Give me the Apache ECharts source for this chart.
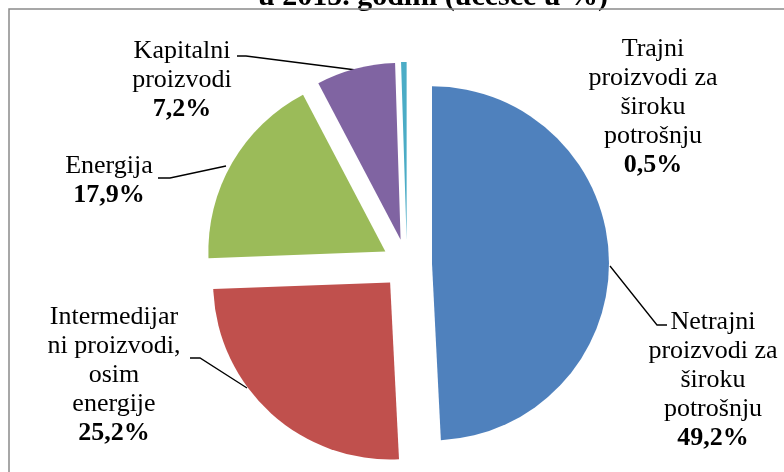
<!DOCTYPE html>
<html>
<head>
<meta charset="utf-8">
<script src="https://cdn.jsdelivr.net/npm/echarts@6/dist/echarts.min.js"></script>
<style>
html,body{margin:0;padding:0;background:#fff;}
#chart{width:784px;height:472px;}
</style>
</head>
<body>
<div id="chart"></div>
<script>
// ---- data ----
const categories = [
  'Netrajni proizvodi za široku potrošnju',
  'Intermedijarni proizvodi, osim energije',
  'Energija',
  'Kapitalni proizvodi',
  'Trajni proizvodi za široku potrošnju'
];
const labelTexts = [
  'Netrajni\nproizvodi za\nširoku\npotrošnju',
  'Intermedijar\nni proizvodi,\nosim\nenergije',
  'Energija',
  'Kapitalni\nproizvodi',
  'Trajni\nproizvodi za\nširoku\npotrošnju'
];
const shares = [49.2, 25.2, 17.9, 7.2, 0.5];
const titleText = 'u 2015. godini (učešće u %)';

// ---- styling / layout ----
const colors = ['#4F81BD', '#C0504D', '#9BBB59', '#8064A2', '#4BACC6'];
const PIE_CENTER = [407, 264];
const PIE_RADIUS = 177;
const EXPLODE = 25;
const labelPos = [
  { x: 713, y: 380 },
  { x: 114, y: 375 },
  { x: 109, y: 181 },
  { x: 182, y: 80 },
  { x: 653, y: 107 }
];
const leaderPts = [
  [[610, 266], [657, 325], [667, 325]],
  [[247, 388], [200, 358], [190, 358]],
  [[226, 166], [170, 178], [158, 178]],
  [[356, 70], [246, 56], [237, 56]],
  null
];
const FONT = 'Liberation Serif, Times New Roman, serif';
const TRANSPARENT = 'rgba(0,0,0,0)';

function fmt(v) { return v.toFixed(1).replace('.', ',') + '%'; }

// explosion: each slice drawn by its own pie series, shifted along its mid-angle
const total = shares.reduce((a, b) => a + b, 0);
let cum = 0;
const series = shares.map((v, k) => {
  const midFrac = (cum + v / 2) / total;
  cum += v;
  const ang = (90 - midFrac * 360) * Math.PI / 180;
  const center = [PIE_CENTER[0] + EXPLODE * Math.cos(ang), PIE_CENTER[1] - EXPLODE * Math.sin(ang)];
  return {
    type: 'pie',
    name: categories[k],
    center: center,
    radius: [0, PIE_RADIUS],
    startAngle: 90,
    clockwise: true,
    silent: true,
    emphasis: { disabled: true },
    avoidLabelOverlap: false,
    label: {
      show: true,
      color: '#000',
      fontFamily: FONT,
      fontSize: 26,
      lineHeight: 29,
      formatter: function (p) {
        const lines = labelTexts[p.dataIndex].split('\n').map(s => '{n|' + s + '}');
        return lines.join('\n') + '\n{b|' + fmt(p.value) + '}';
      },
      rich: {
        n: { fontFamily: FONT, fontSize: 26, lineHeight: 29, color: '#000', align: 'center' },
        b: { fontFamily: FONT, fontSize: 26, lineHeight: 29, color: '#000', fontWeight: 'bold', align: 'center' }
      }
    },
    labelLine: { show: true, lineStyle: { color: '#000', width: 1.3 } },
    labelLayout: function (params) {
      const i = params.dataIndex;
      const o = { x: labelPos[i].x, y: labelPos[i].y, align: 'center', verticalAlign: 'middle' };
      if (leaderPts[i]) o.labelLinePoints = leaderPts[i];
      return o;
    },
    data: shares.map((val, i) => ({
      name: categories[i],
      value: val,
      itemStyle: { color: i === k ? colors[i] : TRANSPARENT, borderWidth: 0 },
      label: { show: i === k },
      labelLine: { show: i === k && !!leaderPts[i] }
    }))
  };
});

const chart = echarts.init(document.getElementById('chart'), null, { renderer: 'canvas' });
chart.setOption({
  animation: false,
  backgroundColor: '#fff',
  title: {
    text: titleText,
    left: 428,
    top: -23,
    textAlign: 'center',
    textStyle: { fontFamily: FONT, fontSize: 30, fontWeight: 'bold', color: '#000' }
  },
  graphic: [{
    type: 'rect',
    z: 100,
    silent: true,
    shape: { x: 9, y: 9, width: 800, height: 500 },
    style: { fill: 'none', stroke: '#8a8a8a', lineWidth: 1.5 }
  }],
  series: series
});
</script>
</body>
</html>
